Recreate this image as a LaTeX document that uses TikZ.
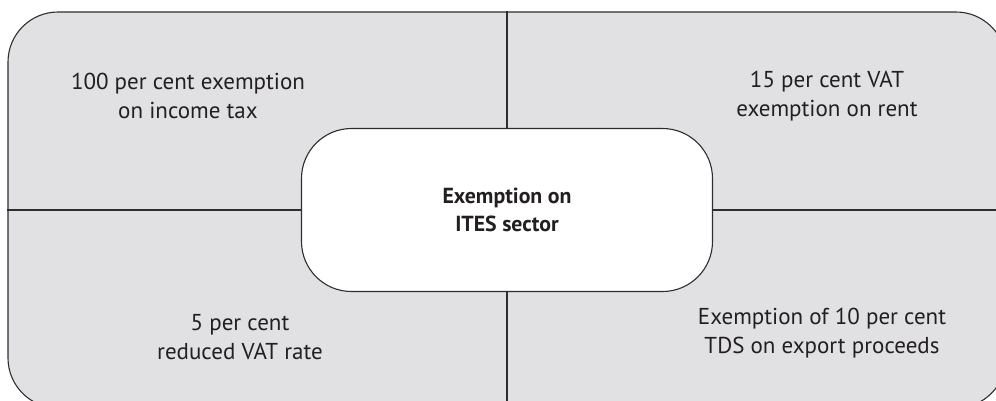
\documentclass[tikz,border=0pt]{standalone}
\usepackage{fontspec}
\setmainfont{PT Sans}
\definecolor{panel}{HTML}{E1E1E3}
\definecolor{rule}{HTML}{2E2E30}
\definecolor{ink}{HTML}{231F20}
\begin{document}
\begin{tikzpicture}[x=1pt,y=-1pt,
  frame/.style={draw=rule,fill=panel,line width=1.1pt,rounded corners=50pt,
    inner sep=0pt,minimum width=998pt,minimum height=396pt},
  core/.style={draw=rule,fill=white,line width=1.1pt,rounded corners=50pt,
    inner sep=0pt,minimum width=411pt,minimum height=163pt,align=center,
    font=\fontsize{21.8}{27.5}\selectfont\bfseries,text=ink},
  split/.style={draw=rule,line width=1.1pt},
  label/.style={align=center,inner sep=0pt,text=ink,
    font=\fontsize{23}{28.5}\selectfont}]
\useasboundingbox (0,0) rectangle (996,400);
\begin{scope}
\clip (0,0) rectangle (996,400);
\node[frame] (frame) at (507,210) {};
\draw[split] (frame.north) -- (frame.south);
\draw[split] (frame.west) -- (frame.east);
\node[core] (core) at (507,210) {Exemption on\\ITES sector};
\end{scope}
\node[label] (tl) at (188,96) {100 per cent exemption\\on income tax};
\node[label] (tr) at (827,96) {15 per cent VAT\\exemption on rent};
\node[label] (bl) at (240,337) {5 per cent\\reduced VAT rate};
\node[label] (br) at (822,333) {Exemption of 10 per cent\\TDS on export proceeds};
\end{tikzpicture}
\end{document}
